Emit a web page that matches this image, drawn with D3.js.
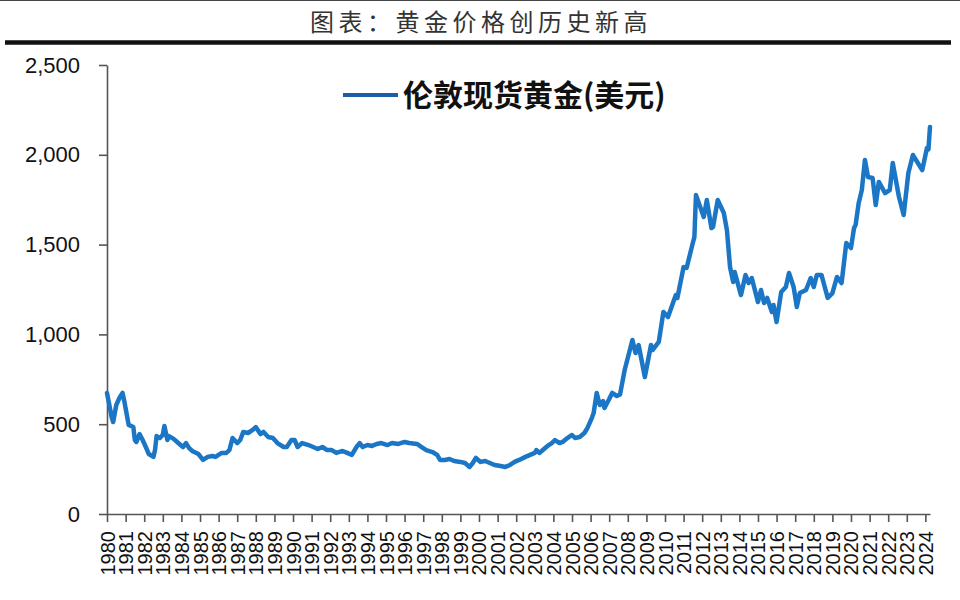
<!DOCTYPE html>
<html>
<head>
<meta charset="utf-8">
<script src="https://cdn.jsdelivr.net/npm/d3@7"></script>
<style>
  body { margin: 0; background: #fff; }
  svg { display: block; }
</style>
</head>
<body>
<script>
// 图表数据 (伦敦现货黄金, 美元/盎司, 读图估计)
const months = [
  "1980-01","1980-04","1980-05","1980-07","1980-09","1980-11","1980-12","1981-02",
  "1981-03","1981-06","1981-07","1981-08","1981-10","1981-12","1982-02","1982-04",
  "1982-07","1982-08","1982-09","1982-11","1983-01","1983-02","1983-04","1983-05",
  "1983-08","1983-11","1984-02","1984-04","1984-06","1984-08","1984-12","1985-03",
  "1985-06","1985-09","1985-11","1986-03","1986-06","1986-08","1986-10","1987-01",
  "1987-03","1987-05","1987-08","1987-11","1988-01","1988-04","1988-06","1988-09",
  "1988-12","1989-03","1989-07","1989-09","1989-12","1990-02","1990-04","1990-07",
  "1990-11","1991-02","1991-05","1991-08","1991-11","1992-02","1992-05","1992-09",
  "1992-12","1993-03","1993-06","1993-08","1993-10","1994-01","1994-04","1994-07",
  "1994-10","1995-02","1995-05","1995-09","1996-01","1996-04","1996-09","1996-12",
  "1997-03","1997-07","1997-10","1997-12","1998-03","1998-06","1998-09","1999-01",
  "1999-04","1999-07","1999-09","1999-11","2000-02","2000-05","2000-08","2000-11",
  "2001-03","2001-06","2001-09","2001-12","2002-03","2002-07","2002-10","2003-01",
  "2003-02","2003-04","2003-07","2003-10","2003-12","2004-02","2004-05","2004-07",
  "2004-10","2005-01","2005-03","2005-06","2005-09","2005-11","2006-02","2006-03",
  "2006-05","2006-07","2006-09","2006-10","2007-01","2007-03","2007-06","2007-08",
  "2007-11","2008-04","2008-06","2008-08","2008-12","2009-04","2009-05","2009-09",
  "2009-12","2010-03","2010-08","2010-09","2011-01","2011-03","2011-07","2011-08",
  "2011-09","2011-12","2012-02","2012-04","2012-07","2012-08","2012-11","2013-03",
  "2013-05","2013-07","2013-09","2013-10","2014-02","2014-05","2014-07","2014-09",
  "2015-01","2015-03","2015-05","2015-07","2015-10","2015-11","2016-01","2016-04",
  "2016-07","2016-09","2016-12","2017-02","2017-04","2017-08","2017-11","2018-01",
  "2018-03","2018-06","2018-10","2019-01","2019-04","2019-07","2019-10","2020-01",
  "2020-03","2020-04","2020-06","2020-08","2020-10","2020-12","2021-03","2021-05",
  "2021-07","2021-11","2022-02","2022-04","2022-08","2022-11","2023-02","2023-05",
  "2023-11","2024-02","2024-03","2024-04"
];
const prices = [
  674,540,512,607,646,674,635,540,
  496,484,412,401,445,412,373,334,
  318,356,434,423,440,490,412,434,
  418,395,373,395,367,351,334,301,
  318,323,318,340,340,356,423,395,
  412,457,451,468,484,445,457,429,
  423,395,373,373,412,412,373,395,
  384,373,362,373,356,356,340,351,
  340,329,373,395,373,384,379,390,
  395,384,395,390,401,395,390,373,
  356,345,329,300,301,306,295,290,
  284,262,284,312,290,295,284,273,
  267,262,273,290,301,318,329,340,
  356,340,362,384,395,412,395,401,
  423,440,423,429,451,479,540,562,
  674,607,629,590,640,674,657,665,
  802,969,896,941,763,941,913,958,
  1125,1097,1219,1203,1375,1370,1509,1542,
  1776,1704,1654,1748,1592,1598,1748,1676,
  1581,1375,1292,1347,1219,1331,1286,1314,
  1180,1247,1175,1203,1125,1164,1069,1236,
  1264,1342,1264,1153,1230,1247,1314,1264,
  1331,1331,1203,1230,1320,1286,1509,1481,
  1592,1609,1732,1804,1971,1876,1871,1720,
  1849,1787,1804,1954,1765,1665,1899,1999,
  1915,2038,2030,2155
];
const yTicks = [0, 500, 1000, 1500, 2000, 2500];
const titleText = "图表：黄金价格创历史新高";
const seriesName = "伦敦现货黄金(美元)";

const width = 960, height = 600;
const plot = { left: 107, right: 930, top: 65, bottom: 514 };

const parseMonth = d3.timeParse("%Y-%m");
const data = months.map((m, i) => ({ date: parseMonth(m), price: prices[i] }));

const svg = d3.select("body")
  .append("svg")
  .attr("width", width)
  .attr("height", height);

// 标题和粗横线
svg.append("line")
  .attr("x1", 0).attr("x2", width)
  .attr("y1", 0.5).attr("y2", 0.5)
  .attr("stroke", "#444").attr("stroke-width", 1);

svg.append("text")
  .attr("x", 481).attr("y", 31)
  .attr("text-anchor", "middle")
  .attr("font-family", "'Noto Sans CJK SC', sans-serif")
  .attr("font-size", 24)
  .attr("letter-spacing", 4.5)
  .attr("fill", "#333")
  .text(titleText);

svg.append("line")
  .attr("x1", 5).attr("x2", 951)
  .attr("y1", 42.5).attr("y2", 42.5)
  .attr("stroke", "#111").attr("stroke-width", 4.5);

const xScale = d3.scaleTime()
  .domain([new Date(1980, 0, 1), new Date(2024, 3, 1)])
  .range([plot.left, plot.right]);
const yScale = d3.scaleLinear()
  .domain([0, 2500])
  .range([plot.bottom, plot.top]);

const line = d3.line()
  .x(d => xScale(d.date))
  .y(d => yScale(d.price));

// 坐标轴
const xAxis = svg.append("g")
  .attr("transform", "translate(0," + plot.bottom + ")")
  .call(d3.axisBottom(xScale)
    .ticks(d3.timeYear.every(1))
    .tickFormat(d3.timeFormat("%Y"))
    .tickSize(8)
    .tickSizeOuter(0));
xAxis.selectAll("text")
  .attr("font-family", "Liberation Sans, Arial, sans-serif")
  .attr("font-size", 20)
  .attr("fill", "#111")
  .attr("text-anchor", "end")
  .attr("dx", "-17")
  .attr("dy", "0.35em")
  .attr("y", 0)
  .attr("transform", "rotate(-90)");

const yAxis = svg.append("g")
  .attr("transform", "translate(" + plot.left + ",0)")
  .call(d3.axisLeft(yScale)
    .tickValues(yTicks)
    .tickFormat(d3.format(","))
    .tickSize(8)
    .tickSizeOuter(0));
yAxis.selectAll("text")
  .attr("font-family", "Liberation Sans, Arial, sans-serif")
  .attr("font-size", 22)
  .attr("fill", "#111")
  .attr("x", -27);

svg.selectAll(".domain, .tick line")
  .attr("stroke", "#555")
  .attr("stroke-width", 1.6);

// 金价折线
svg.append("path")
  .datum(data)
  .attr("fill", "none")
  .attr("stroke", "#1b76c6")
  .attr("stroke-width", 4.5)
  .attr("stroke-linejoin", "round")
  .attr("stroke-linecap", "round")
  .attr("d", line);

// 图例
const legend = svg.append("g").attr("transform", "translate(343,95)");
legend.append("line")
  .attr("x1", 0).attr("x2", 55)
  .attr("y1", 0).attr("y2", 0)
  .attr("stroke", "#1e5ba8")
  .attr("stroke-width", 4);
legend.append("text")
  .attr("x", 60).attr("y", 11)
  .attr("font-family", "'Noto Sans CJK SC', sans-serif")
  .attr("font-weight", "bold")
  .attr("font-size", 30)
  .attr("fill", "#111")
  .text(seriesName);
</script>
</body>
</html>
